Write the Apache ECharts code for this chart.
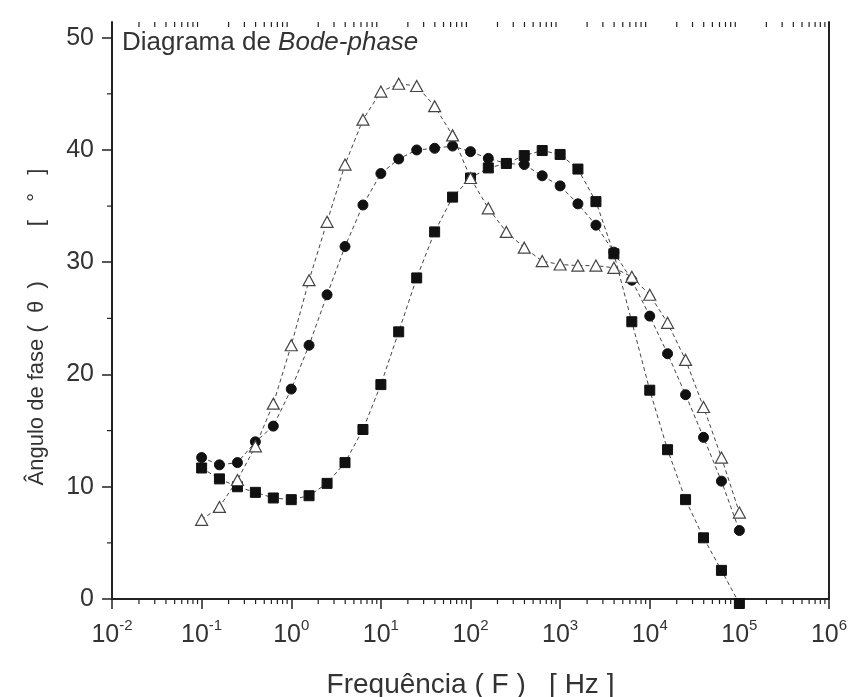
<!DOCTYPE html>
<html><head><meta charset="utf-8">
<script src="https://cdn.jsdelivr.net/npm/echarts@6/dist/echarts.min.js"></script>
<style>html,body{margin:0;padding:0;background:#fff}#c{width:853px;height:697px}</style>
</head><body><div id="c"></div>
<script>
// Frequencies (Hz), 5 points per decade
const freq = [0.1, 0.158, 0.251, 0.398, 0.631, 1, 1.58, 2.51, 3.98, 6.31,
  10, 15.8, 25.1, 39.8, 63.1, 100, 158, 251, 398, 631,
  1000, 1580, 2510, 3980, 6310, 10000, 15800, 25100, 39800, 63100, 100000];
// Phase angle (deg) — open triangles
const triangleVals = [7.05, 8.2, 10.6, 13.6, 17.4, 22.6, 28.4, 33.6, 38.7, 42.7,
  45.2, 45.9, 45.7, 43.9, 41.3, 37.5, 34.8, 32.7, 31.3, 30.1,
  29.8, 29.7, 29.7, 29.5, 28.7, 27.1, 24.6, 21.3, 17.1, 12.6, 7.7];
// Phase angle (deg) — filled circles
const circleVals = [12.6, 11.95, 12.15, 14.0, 15.4, 18.7, 22.6, 27.1, 31.4, 35.1,
  37.9, 39.2, 40.0, 40.15, 40.35, 39.85, 39.25, 38.8, 38.7, 37.7,
  36.8, 35.2, 33.3, 30.9, 28.4, 25.2, 21.85, 18.2, 14.4, 10.5, 6.1];
// Phase angle (deg) — filled squares
const squareVals = [11.67, 10.7, 10.0, 9.5, 9.0, 8.85, 9.2, 10.3, 12.15, 15.1,
  19.1, 23.8, 28.6, 32.7, 35.8, 37.5, 38.4, 38.8, 39.5, 39.95,
  39.6, 38.3, 35.4, 30.75, 24.7, 18.6, 13.3, 8.85, 5.45, 2.55, -0.4];

const yTicks = [0, 10, 20, 30, 40, 50];
const yMinorTicks = [5, 15, 25, 35, 45];
const xDecades = [0.01, 0.1, 1, 10, 100, 1000, 10000, 100000];
const xMinorMult = [2, 3, 4, 5, 6, 7, 8, 9];

const yMin = 0, yMax = 51.4, xMin = 0.01, xMax = 1e6;
const FONT = "'Liberation Sans', Arial, sans-serif";
const INK = '#222';

const pairs = vals => freq.map((f, i) => [f, vals[i]]);

const xMinor = [];
xDecades.forEach(d => xMinorMult.forEach(m => xMinor.push([d * m, 0])));
const yMinor = yMinorTicks.map(v => [xMin, v]);

const chart = echarts.init(document.getElementById('c'), null, {renderer: 'canvas'});

const lineStyle = {type: [4, 3], width: 1, color: '#444'};

chart.setOption({
  animation: false,
  backgroundColor: '#fff',
  grid: {left: 112, right: 24, top: 22, bottom: 98, show: false, containLabel: false, outerBoundsMode: 'none'},
  graphic: [{
    type: 'text', left: 122, top: 30,
    style: {
      text: '{n|Diagrama de }{i|Bode-phase}',
      rich: {
        n: {fontSize: 26, fontFamily: FONT, fill: '#333'},
        i: {fontSize: 26, fontFamily: FONT, fontStyle: 'italic', fill: '#333'}
      }
    }
  }],
  xAxis: [{
    type: 'log', logBase: 10, min: xMin, max: xMax, splitNumber: 8, position: 'bottom',
    name: 'Frequência ( F )   [ Hz ]', nameLocation: 'middle', nameGap: 72,
    nameTextStyle: {fontSize: 28, fontFamily: FONT, color: '#333'},
    axisLine: {lineStyle: {color: INK, width: 2}},
    axisTick: {show: true, inside: false, length: 10, lineStyle: {color: INK, width: 1.5}},
    minorTick: {show: false},
    splitLine: {show: false},
    axisLabel: {
      margin: 19,
      formatter: v => '{b|10}{s|' + Math.round(Math.log10(v)) + '}',
      rich: {
        b: {fontSize: 25, fontFamily: FONT, color: '#333', lineHeight: 34},
        s: {fontSize: 15, fontFamily: FONT, color: '#333', verticalAlign: 'top', lineHeight: 16}
      }
    }
  }, {
    type: 'log', logBase: 10, min: xMin, max: xMax, splitNumber: 8, position: 'top',
    axisLine: {show: true, lineStyle: {color: INK, width: 2}},
    axisTick: {show: true, inside: true, length: 10, lineStyle: {color: INK, width: 1.5}},
    axisLabel: {show: false},
    splitLine: {show: false}
  }],
  yAxis: [{
    type: 'value', min: yMin, max: yMax, interval: 10, position: 'left',
    name: 'Ângulo de fase (  θ  )         [   °   ]', nameLocation: 'middle', nameGap: 64,
    nameTextStyle: {fontSize: 22, fontFamily: FONT, color: '#333', padding: [0, 33, 0, 0]},
    axisLine: {show: true, lineStyle: {color: INK, width: 2}},
    axisTick: {show: true, inside: false, length: 10, customValues: yTicks, lineStyle: {color: INK, width: 1.5}},
    axisLabel: {margin: 18, customValues: yTicks, fontSize: 25, fontFamily: FONT, color: '#333'},
    splitLine: {show: false}
  }, {
    type: 'value', min: yMin, max: yMax, position: 'right',
    axisLine: {show: true, lineStyle: {color: INK, width: 2}},
    axisTick: {show: false}, axisLabel: {show: false}, splitLine: {show: false}
  }],
  series: [
    {
      type: 'custom', coordinateSystem: 'cartesian2d', silent: true, clip: false,
      data: xMinor,
      renderItem: (params, api) => {
        const pb = api.coord([api.value(0), yMin]);
        const pt = api.coord([api.value(0), yMax]);
        const st = {stroke: INK, lineWidth: 1.2};
        return {type: 'group', children: [
          {type: 'line', shape: {x1: pb[0], y1: pb[1], x2: pb[0], y2: pb[1] + 5}, style: st},
          {type: 'line', shape: {x1: pt[0], y1: pt[1], x2: pt[0], y2: pt[1] + 5}, style: st}
        ]};
      }
    },
    {
      type: 'custom', coordinateSystem: 'cartesian2d', silent: true, clip: false,
      data: yMinor,
      renderItem: (params, api) => {
        const p = api.coord([xMin, api.value(1)]);
        return {type: 'line', shape: {x1: p[0], y1: p[1], x2: p[0] - 5, y2: p[1]},
          style: {stroke: INK, lineWidth: 1.2}};
      }
    },
    {
      name: 'squares', type: 'line', data: pairs(squareVals), clip: false,
      symbol: 'rect', symbolSize: 10,
      itemStyle: {color: '#111', borderColor: '#111'},
      lineStyle: lineStyle
    },
    {
      name: 'circles', type: 'line', data: pairs(circleVals), clip: false,
      symbol: 'circle', symbolSize: 10,
      itemStyle: {color: '#111', borderColor: '#111'},
      lineStyle: lineStyle
    },
    {
      name: 'triangles', type: 'line', data: pairs(triangleVals), clip: false,
      symbol: 'triangle', symbolSize: [12, 11],
      itemStyle: {color: '#fff', borderColor: '#444', borderWidth: 1.2},
      lineStyle: lineStyle
    }
  ]
});
</script>
</body></html>
